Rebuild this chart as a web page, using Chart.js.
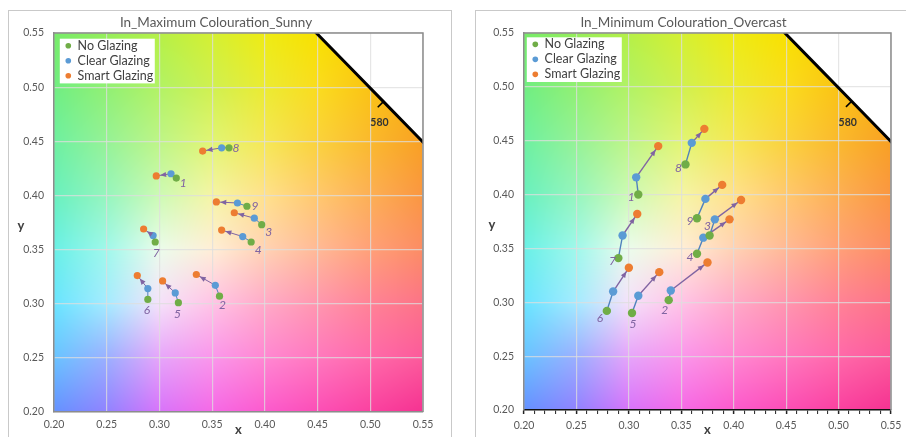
<!DOCTYPE html>
<html><head><meta charset="utf-8">
<script src="https://cdn.jsdelivr.net/npm/chart.js@4.4.0/dist/chart.umd.min.js"></script>
<style>
html,body{margin:0;padding:0;background:#fff;overflow:hidden;width:906px;height:437px;}
.box{position:absolute;border:1px solid #c9c9c9;background:#fff;}
#b1{left:8px;top:10px;width:442px;height:440px;}
#b2{left:475px;top:10px;width:466px;height:440px;}
canvas{display:block;}
</style></head><body>
<div class="box" id="b1"><canvas id="c1" width="442" height="428" style="width:442px;height:428px"></canvas></div>
<div class="box" id="b2"><canvas id="c2" width="466" height="428" style="width:466px;height:428px"></canvas></div>
<script>
// ---------- DATA ----------
const groups = ['1','2','3','4','5','6','7','8','9'];
const seriesNames = ['No Glazing','Clear Glazing','Smart Glazing'];
const xTicks = [0.20,0.25,0.30,0.35,0.40,0.45,0.50,0.55];
const yTicks = [0.20,0.25,0.30,0.35,0.40,0.45,0.50,0.55];

// In_Maximum Colouration_Sunny
const sunnyNoX    = [0.316,0.357,0.397,0.387,0.318,0.289,0.296,0.366,0.383];
const sunnyNoY    = [0.416,0.307,0.373,0.357,0.301,0.304,0.357,0.444,0.390];
const sunnyClearX = [0.311,0.353,0.390,0.379,0.315,0.289,0.294,0.359,0.374];
const sunnyClearY = [0.420,0.317,0.379,0.362,0.310,0.314,0.363,0.444,0.393];
const sunnySmartX = [0.297,0.335,0.371,0.359,0.303,0.279,0.285,0.341,0.354];
const sunnySmartY = [0.418,0.327,0.384,0.368,0.321,0.326,0.369,0.441,0.394];

// In_Minimum Colouration_Overcast
const overNoX    = [0.309,0.338,0.377,0.365,0.303,0.279,0.290,0.354,0.365];
const overNoY    = [0.400,0.302,0.362,0.345,0.290,0.292,0.341,0.428,0.378];
const overClearX = [0.307,0.340,0.382,0.371,0.309,0.285,0.294,0.360,0.373];
const overClearY = [0.416,0.311,0.377,0.360,0.306,0.310,0.362,0.448,0.396];
const overSmartX = [0.328,0.375,0.407,0.396,0.329,0.300,0.308,0.372,0.389];
const overSmartY = [0.445,0.337,0.395,0.377,0.328,0.332,0.382,0.461,0.409];

// spectral locus (CIE 1931) near the plotted window
const locusNm = [570,575,580,585,590];
const locusX  = [0.4441,0.4788,0.5125,0.5448,0.5752];
const locusY  = [0.5547,0.5202,0.4866,0.4544,0.4242];
const locusLabelNm = [580];

// ---------- STYLE ----------
const FONT = 'Lato, "Open Sans", sans-serif';
const GREEN = '#70AD47', BLUE = '#5B9BD5', ORANGE = '#ED7D31';
const SEG = '#4F81BD', ARROW = '#8064A2', NUMC = '#8064A2';
// background palette rows y=0.20..0.55, cols x=0.20..0.55
const PAL = [
 [[100,145,255],[145,130,255],[215,115,250],[245,105,230],[252,90,205],[252,78,182],[250,65,160],[245,50,145]],
 [[105,195,255],[155,175,255],[230,165,250],[250,150,235],[255,135,210],[255,120,190],[255,105,170],[252,90,155]],
 [[105,228,255],[165,235,255],[245,225,250],[255,195,230],[255,170,200],[255,150,175],[255,130,150],[252,115,135]],
 [[105,240,230],[160,248,235],[235,252,235],[255,238,215],[255,210,180],[255,185,150],[255,160,120],[252,140,100]],
 [[105,240,190],[150,245,190],[205,250,180],[245,245,165],[255,225,140],[255,200,110],[252,175,85],[250,150,65]],
 [[110,240,160],[150,242,150],[190,245,135],[225,245,115],[245,232,85],[250,210,60],[250,185,45],[248,160,35]],
 [[112,238,130],[145,240,115],[178,242,100],[208,240,80],[235,235,50],[250,220,30],[250,195,20],[250,175,15]],
 [[118,235,105],[150,238,90],[182,240,70],[212,240,50],[238,235,20],[248,225,0],[250,205,0],[250,190,0]]
];
function bgColor(xv, yv){
  const fx=(xv-0.2)/0.05, fy=(yv-0.2)/0.05;
  let i=Math.max(0,Math.min(6,Math.floor(fx))), j=Math.max(0,Math.min(6,Math.floor(fy)));
  const tx=Math.max(0,Math.min(1,fx-i)), ty=Math.max(0,Math.min(1,fy-j));
  const a=PAL[j][i], b=PAL[j][i+1], c=PAL[j+1][i], d=PAL[j+1][i+1];
  return [0,1,2].map(k=>(a[k]*(1-tx)+b[k]*tx)*(1-ty)+(c[k]*(1-tx)+d[k]*tx)*ty);
}

const ciePlugin = {
  id:'cie',
  afterLayout(chart){
    const st = chart.options.plugins.cie, a = chart.chartArea, lg = chart.legend;
    if(!lg) return;
    const nl = a.left + st.legDx, nt = a.top + st.legDy;
    const dx = nl - lg.left, dy = nt - lg.top;
    lg.left += dx; lg.right = lg.left + lg.width;
    lg.top += dy; lg.bottom = lg.top + (a.bottom - a.top);
    (lg.legendHitBoxes||[]).forEach(h=>{h.left+=dx; h.top+=dy;});
  },
  beforeDraw(chart){
    const {ctx, chartArea:a, scales:{x,y}} = chart;
    const w=Math.round(a.right-a.left), h=Math.round(a.bottom-a.top);
    if(!chart.$bg){
      const off=document.createElement('canvas'); off.width=w; off.height=h;
      const octx=off.getContext('2d'); const img=octx.createImageData(w,h);
      for(let j=0;j<h;j++){ const yv=y.getValueForPixel(a.top+j+0.5);
        for(let i=0;i<w;i++){ const xv=x.getValueForPixel(a.left+i+0.5);
          const c=bgColor(xv,yv); const p=(j*w+i)*4;
          img.data[p]=c[0]; img.data[p+1]=c[1]; img.data[p+2]=c[2]; img.data[p+3]=255; } }
      octx.putImageData(img,0,0); chart.$bg=off;
    }
    ctx.save();
    ctx.drawImage(chart.$bg, a.left, a.top);
    ctx.beginPath(); ctx.rect(a.left,a.top,a.right-a.left,a.bottom-a.top); ctx.clip();
    ctx.beginPath();
    locusX.forEach((v,i)=>{const px=x.getPixelForValue(v),py=y.getPixelForValue(locusY[i]); i?ctx.lineTo(px,py):ctx.moveTo(px,py);});
    const n=locusX.length-1;
    ctx.lineTo(a.right+100, y.getPixelForValue(locusY[n]));
    ctx.lineTo(a.right+100, a.top-100);
    ctx.lineTo(x.getPixelForValue(locusX[0]), a.top-100);
    ctx.closePath(); ctx.fillStyle='#fff'; ctx.fill();
    ctx.restore();
  },
  beforeDatasetsDraw(chart){
    const {ctx} = chart, lg = chart.legend;
    if(!lg || !lg.legendHitBoxes) return;
    const pad = lg.options.labels.padding;
    const hb = lg.legendHitBoxes; const x0 = lg.left+pad, y0 = lg.top+pad;
    const maxW = Math.max(...hb.map(h=>h.width));
    const H = hb.reduce((s,h)=>s+h.height,0) + pad*(hb.length-1);
    ctx.save(); ctx.fillStyle='#fff';
    ctx.fillRect(x0-5.5, y0-0.8, maxW+7, H+2.2);
    ctx.restore();
    lg.draw();
  },
  afterDatasetsDraw(chart){
    const st = chart.options.plugins.cie;
    const {ctx, chartArea:a, scales:{x,y}} = chart;
    ctx.save();
    // arrowheads
    chart.data.datasets.forEach((ds,i)=>{
      if(!ds.isArrow) return;
      const m=chart.getDatasetMeta(i); const p0=m.data[0], p1=m.data[1];
      const dx=p1.x-p0.x, dy=p1.y-p0.y, L=Math.hypot(dx,dy)||1, ux=dx/L, uy=dy/L;
      const tx=p1.x-ux*(st.r+0.3), ty=p1.y-uy*(st.r+0.3);
      const bx=tx-ux*6, by=ty-uy*6;
      ctx.beginPath(); ctx.moveTo(tx,ty); ctx.lineTo(bx-uy*2.6,by+ux*2.6); ctx.lineTo(bx+uy*2.6,by-ux*2.6); ctx.closePath();
      ctx.fillStyle=ARROW; ctx.fill();
    });
    // group numbers next to "No Glazing" points
    const meta0 = chart.getDatasetMeta(0);
    ctx.font='italic 12px '+FONT; ctx.fillStyle=NUMC; ctx.textAlign='center'; ctx.textBaseline='middle';
    groups.forEach((g,i)=>{ const p=meta0.data[i]; ctx.fillText(g, p.x+st.numOff[i][0], p.y+st.numOff[i][1]); });
    // 580 tick + label
    locusLabelNm.forEach(nm=>{
      const k=locusNm.indexOf(nm);
      const px=x.getPixelForValue(locusX[k]), py=y.getPixelForValue(locusY[k]);
      const qx=x.getPixelForValue(locusX[k+1])-x.getPixelForValue(locusX[k-1]);
      const qy=y.getPixelForValue(locusY[k+1])-y.getPixelForValue(locusY[k-1]);
      const L=Math.hypot(qx,qy); const nx=-qy/L, ny=qx/L;
      ctx.beginPath(); ctx.moveTo(px,py); ctx.lineTo(px+nx*8,py+ny*8); ctx.strokeStyle='#000'; ctx.lineWidth=1.6; ctx.stroke();
      ctx.font='bold 10.5px "Liberation Sans Narrow", '+FONT; ctx.fillStyle='#333'; ctx.textAlign='center';
      ctx.fillText(String(nm), px-4, py+21);
    });
    // frame (top/right)
    ctx.strokeStyle='#8c8c8c'; ctx.lineWidth=1.5;
    ctx.beginPath(); ctx.moveTo(a.left,a.top); ctx.lineTo(a.right,a.top); ctx.lineTo(a.right,a.bottom); ctx.stroke();
    // y axis title (upright)
    ctx.font='bold 13px '+FONT; ctx.fillStyle='#404040'; ctx.textAlign='center'; ctx.textBaseline='middle';
    ctx.fillText('y', a.left-st.yTitleDx, (a.top+a.bottom)/2+3);
    ctx.restore();
  }
};

function makeChart(id, title, d, st){
  const pts=(xs,ys)=>xs.map((v,i)=>({x:v,y:ys[i]}));
  const no=pts(d.noX,d.noY), cl=pts(d.clX,d.clY), sm=pts(d.smX,d.smY);
  const datasets=[
    {type:'scatter',label:seriesNames[0],data:no,backgroundColor:GREEN,borderColor:GREEN,borderWidth:0,pointRadius:st.r,pointStyle:'circle',order:0},
    {type:'scatter',label:seriesNames[1],data:cl,backgroundColor:BLUE,borderColor:BLUE,borderWidth:0,pointRadius:st.r,pointStyle:'circle',order:0},
    {type:'scatter',label:seriesNames[2],data:sm,backgroundColor:ORANGE,borderColor:ORANGE,borderWidth:0,pointRadius:st.r,pointStyle:'circle',order:0}
  ];
  groups.forEach((g,i)=>{
    datasets.push({type:'line',label:'_s'+g,data:[no[i],cl[i]],borderColor:SEG,borderWidth:st.lw,pointRadius:0,fill:false,order:1,clip:0});
    datasets.push({type:'line',label:'_a'+g,data:[cl[i],sm[i]],borderColor:ARROW,borderWidth:st.lw,pointRadius:0,fill:false,order:1,clip:0,isArrow:true});
  });
  datasets.push({type:'line',label:'_locus',data:pts(locusX,locusY),borderColor:'#000',borderWidth:3,pointRadius:0,fill:false,order:2,clip:0});
  const gridCol='rgba(222,222,222,0.75)';
  return new Chart(document.getElementById(id),{
    type:'scatter',
    data:{datasets},
    options:{
      responsive:false, animation:false, events:[],
      layout:{padding:{left:0,right:st.padR,top:0,bottom:0}},
      scales:{
        x:{type:'linear',min:xTicks[0],max:xTicks[xTicks.length-1],
          afterBuildTicks:s=>{ if(!st.minor) s.ticks=xTicks.map(v=>({value:v})); },
          ticks:{stepSize:0.01,autoSkip:false,maxRotation:0,padding:st.xPad,color:'#595959',font:{family:FONT,size:10.5},
            callback:v=>(Math.round(v*100)%5===0?Number(v).toFixed(2):'')},
          grid:{color:c=>(Math.round(c.tick.value*100)%5===0?gridCol:'rgba(0,0,0,0)'),lineWidth:1.2,drawTicks:st.minor,tickLength:4,tickColor:'#222',tickWidth:c=>(Math.round(c.tick.value*100)%5===0?1.5:1)},
          border:{display:true,color:st.bottomCol,width:1.5},
          title:{display:true,text:'x',color:'#404040',font:{family:FONT,size:13,weight:'bold'},padding:{top:0,bottom:1}},
          afterFit:s=>{s.height=st.xH;}
        },
        y:{type:'linear',min:yTicks[0],max:yTicks[yTicks.length-1],
          afterBuildTicks:s=>{ s.ticks=yTicks.map(v=>({value:v})); },
          ticks:{padding:10,color:'#595959',font:{family:FONT,size:10.5},callback:v=>Number(v).toFixed(2)},
          grid:{color:gridCol,lineWidth:1.2,drawTicks:false},
          border:{display:true,color:'#8c8c8c',width:1.5},
          afterFit:s=>{s.width=st.yW;}
        }
      },
      plugins:{
        title:{display:true,text:title,color:'#595959',font:{family:FONT,size:13.5,weight:'normal'},padding:{top:4,bottom:1.8}},
        legend:{position:'chartArea',align:'start',
          labels:{usePointStyle:true,boxWidth:6,boxHeight:4,padding:2.5,color:'#404040',font:{family:FONT,size:12.5},
            filter:it=>!it.text.startsWith('_')}},
        tooltip:{enabled:false},
        cie:st
      }
    },
    plugins:[ciePlugin]
  });
}

makeChart('c1','In_Maximum Colouration_Sunny',
  {noX:sunnyNoX,noY:sunnyNoY,clX:sunnyClearX,clY:sunnyClearY,smX:sunnySmartX,smY:sunnySmartY},
  {r:3.6,lw:1,padR:28,yW:45,xH:27,xPad:6,minor:false,bottomCol:'#8c8c8c',legDx:8.8,legDy:4,yTitleDx:33,
   numOff:[[7,5],[3,9],[7,7],[7,8],[-1,11],[-1,11],[1,11],[7,0],[8,0]]});
makeChart('c2','In_Minimum Colouration_Overcast',
  {noX:overNoX,noY:overNoY,clX:overClearX,clY:overClearY,smX:overSmartX,smY:overSmartY},
  {r:4.2,lw:1.4,padR:51,yW:48,xH:29,xPad:5,minor:true,bottomCol:'#111',legDx:5.8,legDy:2.6,yTitleDx:32,
   numOff:[[-7,3],[-4,10],[-2,-9],[-7,3],[1,11],[-7,7],[-6,3],[-7,4],[-7,3]]});
</script>
</body></html>
